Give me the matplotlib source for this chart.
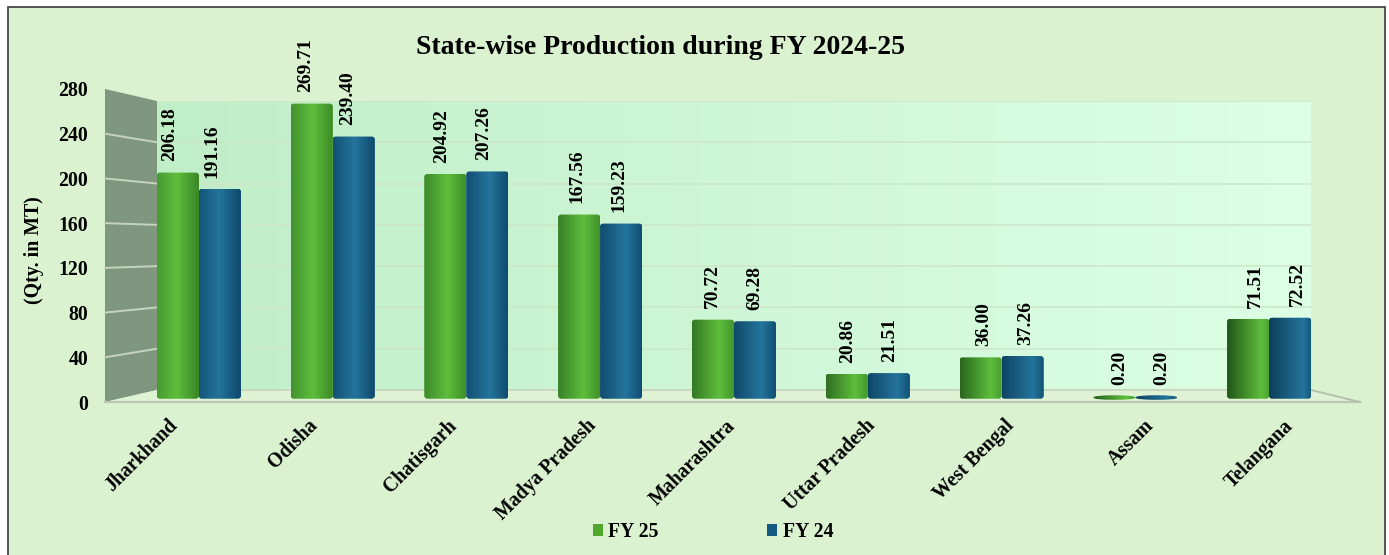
import numpy as np
import matplotlib
matplotlib.use('Agg')
import matplotlib.pyplot as plt
from matplotlib.patches import FancyBboxPatch, Patch, Polygon, Rectangle
from matplotlib.lines import Line2D

states = ['Jharkhand', 'Odisha', 'Chatisgarh', 'Madya Pradesh', 'Maharashtra',
          'Uttar Pradesh', 'West Bengal', 'Assam', 'Telangana']
fy25 = [206.18, 269.71, 204.92, 167.56, 70.72, 20.86, 36.00, 0.20, 71.51]
fy24 = [191.16, 239.40, 207.26, 159.23, 69.28, 21.51, 37.26, 0.20, 72.52]
yticks = [0, 40, 80, 120, 160, 200, 240, 280]

W, H = 1389, 555
plt.rcParams['font.family'] = 'Liberation Serif'
plt.rcParams['font.weight'] = 'bold'

fig = plt.figure(figsize=(W / 100, H / 100), dpi=100, facecolor='white')


def px_axes(left, top, right, bottom, z):
    ax = fig.add_axes([left / W, 1 - bottom / H, (right - left) / W, (bottom - top) / H], zorder=z)
    ax.patch.set_visible(False)
    for s in ax.spines.values():
        s.set_visible(False)
    return ax


def to_fig(points):
    return [(x / W, 1 - y / H) for x, y in points]


# panel
fig.add_artist(Rectangle((8 / W, -0.01), 1377 / W, 1.01 - 7 / H, transform=fig.transFigure,
                         facecolor='#daf2cf', edgecolor='#3a3a3a', linewidth=1.2, zorder=0))

# back wall with its own (smaller) scale
ax_back = px_axes(157, 101, 1311, 390, 1)
ax_back.set_xlim(0, 1)
ax_back.set_ylim(0, 280)
ax_back.set_xticks([])
ax_back.set_yticks(yticks)
ax_back.tick_params(length=0, labelleft=False)
ax_back.grid(axis='y', color='#cde6c8', linewidth=1.2)
left_c = np.array([192, 238, 199]) / 255
right_c = np.array([221, 255, 229]) / 255
wall = np.linspace(0, 1, 200)[None, :, None] * (right_c - left_c) + left_c
ax_back.imshow(wall, extent=(0, 1, 0, 280), aspect='auto', zorder=0)

# front scale, carries the tick labels
ax = px_axes(105, 89, 1360, 402, 2)
ax.set_xlim(-0.5, 8.5)
ax.set_ylim(0, 280)
ax.set_yticks(yticks)
ax.set_xticks(range(len(states)))
ax.set_xticklabels(states, rotation=45, ha='right', va='center', rotation_mode='anchor')
ax.tick_params(axis='y', length=0, pad=12, labelsize=14.2)
ax.tick_params(axis='x', length=0, pad=15, labelsize=14.2)

# side wall and floor
fig.add_artist(Polygon(to_fig([(105, 89), (157, 101), (157, 390), (105, 402)]), transform=fig.transFigure,
                       facecolor='#7f977e', edgecolor='none', zorder=1.5))
fig.add_artist(Polygon(to_fig([(105, 402), (157, 390), (1311, 390), (1360, 402)]), transform=fig.transFigure,
                       facecolor='#e0f2d4', edgecolor='none', zorder=1.5))
for v in yticks[1:-1]:
    front = 402 - v * 313 / 280
    back = 390 - v * 289 / 280
    fig.add_artist(Line2D([105 / W, 157 / W], [1 - front / H, 1 - back / H], transform=fig.transFigure,
                          color='#c6d4bb', linewidth=1.4, zorder=1.6))
fig.add_artist(Line2D([157 / W, 1311 / W], [1 - 390 / H] * 2, transform=fig.transFigure,
                      color='#c5d4bd', linewidth=1.2, zorder=1.6))
fig.add_artist(Line2D([105 / W, 1360 / W], [1 - 402 / H] * 2, transform=fig.transFigure,
                      color='#bcc8b2', linewidth=1.6, zorder=1.6))
fig.add_artist(Line2D([1311 / W, 1360 / W], [1 - 390 / H, 1 - 402 / H], transform=fig.transFigure,
                      color='#b5c0ab', linewidth=1.4, zorder=1.6))

# bars, axes runs a little under zero so the rounded feet are not cut
px_per_unit = 304 / 280
foot = 10
ax_bar = px_axes(132, 93, 1336, 397 + foot * px_per_unit, 3)
ax_bar.set_xlim(-0.5, 8.5)
ax_bar.set_ylim(-foot, 280)
ax_bar.set_xticks([])
ax_bar.set_yticks([])
bar_w = 42 / 133.8
aspect = 133.8 / px_per_unit


def cylinder(i, left_a, left_b, peak, right_a, right_b):
    # shading moves to the right across the chart, like the 3d original
    f = i / 8
    t = 0.48 + 0.34 * f
    left = np.array(left_a) + f * (np.array(left_b) - np.array(left_a))
    right = np.array(right_a) + f * (np.array(right_b) - np.array(right_a))
    xs = np.linspace(0, 1, 64)
    rows = [np.interp(xs, [0, t, 1], [left[c], peak[c], right[c]]) for c in range(3)]
    return np.dstack(rows) / 255


series = [
    (fy25, -bar_w / 2, '#4fa72e', ((72, 155, 50), (33, 85, 25)), (94, 190, 60), ((58, 135, 38), (75, 165, 50))),
    (fy24, bar_w / 2, '#14597f', ((20, 85, 122), (12, 62, 92)), (36, 116, 156), ((14, 72, 106), (20, 88, 125))),
]
for vals, shift, colour, lefts, peak, rights in series:
    xs = np.arange(len(vals)) + shift
    bars = ax_bar.bar(xs, vals, width=bar_w, color=colour, zorder=2)
    for i, (rect, v) in enumerate(zip(bars, vals)):
        x0 = rect.get_x()
        if v < 2:
            # nearly empty bar is only the flat disc of the cylinder
            lo, hi = -2.6, v + 1.4
            rs, asp = bar_w / 2, (hi - lo) / bar_w
        else:
            lo, hi = -1.6, v + 0.5
            rs, asp = 0.022, aspect
        shape = FancyBboxPatch((x0, lo), bar_w, hi - lo, boxstyle=f'round,pad=0,rounding_size={rs}',
                               mutation_aspect=asp, facecolor='none', edgecolor='none',
                               transform=ax_bar.transData, clip_on=False)
        ax_bar.add_patch(shape)
        rect.set_clip_path(shape)
        img = ax_bar.imshow(cylinder(i, lefts[0], lefts[1], peak, rights[0], rights[1]),
                            extent=(x0, x0 + bar_w, lo, hi), aspect='auto', zorder=3)
        img.set_clip_path(shape)
        off = (-8 + 1.85 * i) * 0.72
        ax_bar.annotate(f'{v:.2f}', (x0 + bar_w / 2, v), xytext=(off, 8.5), textcoords='offset points',
                        rotation=90, ha='center', va='bottom', fontsize=14, annotation_clip=False, zorder=5)
ax_bar.set_xlim(-0.5, 8.5)
ax_bar.set_ylim(-foot, 280)

fig.text(661 / W, 1 - 47 / H, 'State-wise Production during FY 2024-25', ha='center', va='center', fontsize=20)
fig.text(34 / W, 1 - 250 / H, '(Qty. in MT)', rotation=90, ha='center', va='center', fontsize=14.3)

handles = [Patch(facecolor='#4fa72e', label='FY 25'), Patch(facecolor='#14597f', label='FY 24')]
fig.legend(handles=handles, ncol=2, frameon=False, loc='center', bbox_to_anchor=(713 / W, 1 - 532 / H),
           fontsize=14.2, handlelength=0.52, handleheight=0.55, handletextpad=0.28, columnspacing=5.5,
           borderpad=0, borderaxespad=0)

fig.savefig('out.png', dpi=100)
